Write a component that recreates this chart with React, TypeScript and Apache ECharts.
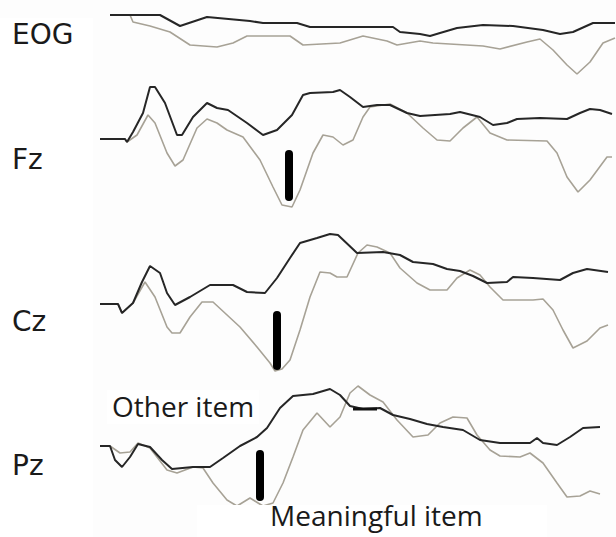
import { useEffect, useRef } from "react";
import * as echarts from "echarts";

// Channel names (top to bottom)
const channels = ["EOG", "Fz", "Cz", "Pz"];

// Waveforms: [time (ms), amplitude (µV)]
const eogOther = [[-30,0],[70,0],[110,-2.2],[164,-0.4],[250,-1.2],[276,-1.6],[344,-1.6],[370,-2.4],[536,-2.4],[550,-3.4],[590,-3.8],[610,-4.2],[630,-3.6],[664,-2.6],[716,-2.0],[776,-2.2],[836,-3.0],[870,-3.8],[896,-3.4],[936,-1.6],[980,-1.6]];
const eogMeaningful = [[-30,0],[10,0],[16,-1.4],[50,-2.2],[90,-3.4],[130,-6.0],[184,-6.4],[216,-5.6],[244,-4.2],[330,-4.2],[356,-6.0],[430,-5.6],[476,-4.2],[524,-5.2],[544,-6.0],[590,-5.2],[616,-5.6],[716,-6.2],[750,-6.8],[804,-5.4],[830,-4.8],[856,-7.0],[884,-10.0],[904,-11.8],[930,-9.4],[956,-5.6],[980,-4.6]];

const fzOther = [[-50,0],[0,0],[4,-0.6],[16,1.4],[36,5.2],[50,10.4],[60,10.4],[80,7.2],[104,0.8],[114,0.8],[136,4.4],[164,7.2],[184,6.2],[206,5.8],[244,3.2],[276,0.8],[304,1.8],[334,4.8],[356,8.8],[370,9.2],[416,9.4],[430,9.8],[450,8.4],[476,6.4],[504,6.8],[530,6.8],[564,5.2],[590,4.6],[650,5.0],[670,5.4],[710,4.4],[736,2.8],[764,3.2],[784,4.0],[830,4.2],[884,4.0],[910,5.2],[930,6.0],[950,5.8],[974,5.0]];
const fzMeaningful = [[-50,0],[0,0],[4,-0.6],[24,0.8],[46,4.8],[60,3.2],[84,-2.8],[100,-5.4],[116,-4.2],[144,2.2],[164,4.0],[184,3.2],[204,1.8],[236,0.4],[270,-4.2],[296,-9.6],[314,-13.2],[334,-13.6],[350,-10.2],[376,-2.8],[396,0.8],[416,0.4],[436,-1.2],[456,-0.2],[476,4.4],[490,6.4],[530,7.0],[564,5.2],[596,2.2],[624,-0.2],[650,-0.4],[676,2.2],[704,4.4],[730,1.2],[764,-0.2],[844,-0.4],[864,-2.8],[884,-7.6],[906,-10.6],[930,-8.2],[964,-3.6],[974,-3.6]];

const czOther = [[-50,0],[-14,0],[-6,-1.8],[16,0.2],[34,4.4],[50,7.6],[70,6.2],[84,2.2],[100,-0.2],[130,1.4],[170,3.8],[216,3.8],[244,2.4],[280,2.2],[304,5.2],[330,9.2],[350,12.2],[384,13.2],[410,14.0],[426,13.8],[464,10.2],[516,10.4],[550,9.8],[576,8.4],[616,8.0],[644,7.0],[670,6.6],[696,5.6],[724,4.2],[764,4.4],[776,5.4],[816,5.2],[870,4.8],[896,6.2],[924,7.0],[966,6.4]];
const czMeaningful = [[-50,0],[-14,0],[-6,-1.8],[16,0.2],[40,4.4],[60,1.4],[84,-4.6],[94,-5.8],[110,-5.8],[130,-2.6],[154,0.4],[176,0.4],[230,-4.6],[264,-8.6],[290,-11.8],[300,-13.4],[314,-13.0],[330,-11.2],[350,-5.2],[370,1.4],[390,6.4],[410,6.2],[424,5.4],[444,5.4],[466,10.2],[484,11.8],[504,11.4],[530,10.2],[550,7.2],[584,4.2],[610,2.8],[644,2.8],[664,5.2],[690,6.8],[710,5.8],[730,3.4],[756,0.8],[816,0.8],[836,1.0],[856,-1.2],[876,-5.2],[896,-8.8],[924,-7.4],[950,-4.8],[966,-4.2]];

const pzOther = [[-50,0],[-30,0],[-20,-2.8],[-6,-4.2],[10,-2.2],[26,0.4],[50,-0.2],[74,-2.8],[94,-4.6],[136,-4.2],[170,-4.2],[196,-2.4],[230,0],[264,1.8],[284,3.6],[310,7.6],[336,10.0],[376,10.4],[410,11.4],[430,10.2],[450,8.0],[476,7.4],[510,7.6],[536,6.2],[570,5.4],[604,4.4],[636,3.8],[676,3.2],[710,1.2],[750,0.6],[810,0.6],[824,1.6],[836,0.6],[864,0.2],[890,1.8],[916,3.6],[950,3.8]];
const pzMeaningful = [[-50,0],[-30,0],[-10,-1.4],[10,-1.2],[26,0.6],[50,-0.4],[84,-4.8],[104,-5.4],[136,-4.2],[156,-4.4],[176,-7.4],[204,-10.8],[224,-12.0],[250,-10.4],[276,-12.0],[296,-11.4],[316,-7.4],[336,-2.2],[356,3.2],[384,6.6],[410,3.8],[430,5.8],[450,10.6],[466,12.0],[490,10.2],[516,8.8],[544,5.2],[576,1.8],[606,2.2],[630,4.6],[656,5.8],[684,5.6],[704,2.2],[730,-0.8],[750,-2.0],[790,-2.2],[810,-1.4],[836,-3.4],[864,-7.4],[884,-10.2],[910,-10.0],[930,-9.0],[950,-9.6]];

// Peak markers: [time, from amplitude, to amplitude]
const fzPeak = [328, -3.0, -11.6];
const czPeak = [304, -2.2, -12.4];
const pzPeak = [270, -1.6, -10.2];
// Pz horizontal marker: [from time, to time, amplitude]
const pzDash = [456, 504, 7.4];

const otherData = [eogOther, fzOther, czOther, pzOther];
const meaningfulData = [eogMeaningful, fzMeaningful, czMeaningful, pzMeaningful];
const peaks = [null, fzPeak, czPeak, pzPeak];

// Layout (pixels)
const W = 616;
const H = 537;
const PX_PER_UV = 5;
const baselines = [15, 139, 304, 446];
const labelY = [36, 161, 323, 467];
const T_MIN = -250;
const T_MAX = 982;

export default function App() {
  const ref = useRef<HTMLDivElement>(null);
  useEffect(() => {
    if (!ref.current) return;
    const chart = echarts.init(ref.current, null, { renderer: "svg" });
    const grid = channels.map(() => ({ left: 0, right: 0, top: 0, bottom: 0 }));
    const xAxis = channels.map((_, i) => ({
      type: "value", gridIndex: i, min: T_MIN, max: T_MAX, show: false,
    }));
    const yAxis = channels.map((_, i) => ({
      type: "value", gridIndex: i,
      max: baselines[i] / PX_PER_UV,
      min: (baselines[i] - H) / PX_PER_UV,
      show: false,
    }));
    const series: any[] = [];
    channels.forEach((ch, i) => {
      series.push({
        type: "line", name: ch + " Meaningful item", xAxisIndex: i, yAxisIndex: i,
        data: meaningfulData[i], showSymbol: false, symbol: "none",
        lineStyle: { color: "#a7a296", width: 1.6 },
      });
      series.push({
        type: "line", name: ch + " Other item", xAxisIndex: i, yAxisIndex: i,
        data: otherData[i], showSymbol: false, symbol: "none",
        lineStyle: { color: "#262626", width: 2 },
      });
      const p = peaks[i];
      if (p) {
        series.push({
          type: "line", name: ch + " peak", xAxisIndex: i, yAxisIndex: i,
          data: [[p[0], p[1]], [p[0], p[2]]], showSymbol: false, symbol: "none",
          lineStyle: { color: "#000", width: 8, cap: "round" },
        });
      }
    });
    series.push({
      type: "line", name: "Pz dash", xAxisIndex: 3, yAxisIndex: 3,
      data: [[pzDash[0], pzDash[2]], [pzDash[1], pzDash[2]]], showSymbol: false, symbol: "none",
      lineStyle: { color: "#111", width: 3 },
    });

    const chFont = "'DejaVu Sans', sans-serif";
    const labelFont = "'Open Sans', 'Noto Sans', sans-serif";
    const graphic: any[] = [
      { type: "rect", left: 0, top: 18, shape: { width: 93, height: H - 18 }, style: { fill: "#ffffff" }, z: -1 },
      ...channels.map((ch, i) => ({
        type: "text", left: 12, top: labelY[i] - 16,
        style: { text: ch, fill: "#1a1a1a", font: `28px ${chFont}` },
      })),
      {
        type: "text", left: 107, top: 390,
        style: {
          text: "Other item", fill: "#1a1a1a", font: `28px ${labelFont}`,
          backgroundColor: "#ffffff", padding: [2, 5, 4, 5],
        },
        z: 10,
      },
      {
        type: "rect", left: 197, top: 505, shape: { width: 350, height: 32 }, style: { fill: "#ffffff" }, z: 9,
      },
      {
        type: "text", left: 270, top: 501,
        style: { text: "Meaningful item", fill: "#1a1a1a", font: `28px ${labelFont}` },
        z: 10,
      },
    ];

    chart.setOption({
      animation: false,
      backgroundColor: "#fdfdfd",
      grid, xAxis, yAxis, series, graphic,
    });
    return () => chart.dispose();
  }, []);
  return (
    <div ref={ref} style={{ position: "fixed", left: 0, top: 0, width: W, height: H }} />
  );
}
